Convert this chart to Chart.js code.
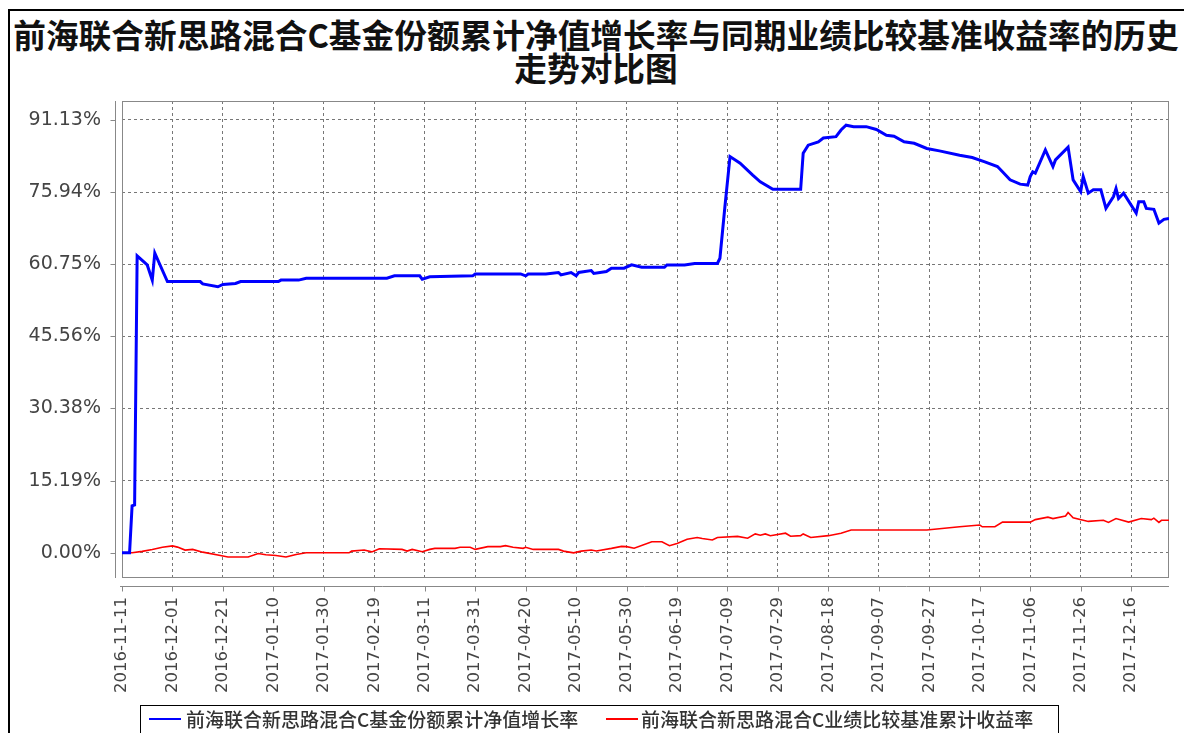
<!DOCTYPE html>
<html>
<head>
<meta charset="utf-8">
<script src="https://cdn.jsdelivr.net/npm/chart.js@4.4.0/dist/chart.umd.min.js"></script>
<style>
    html, body { margin: 0; padding: 0; background: #fff; }
    #wrap { position: relative; width: 1184px; height: 733px; overflow: hidden; }
    #frame { position: absolute; left: 8px; top: 9px; width: 1300px; height: 900px; border-top: 2px solid #000; border-left: 2px solid #000; }
    #title { position: absolute; left: 10px; top: 17px; width: 1172px; text-align: center; font: bold 32.7px/33px "Noto Sans CJK SC"; color: #111; }
    #chart { position: absolute; left: 0; top: 0; width: 1184px; height: 733px; }
    #legend { position: absolute; left: 140px; top: 705px; width: 917px; height: 40px; border: 1px solid #000; font: 500 19px "Noto Sans CJK SC"; color: #333; }
    #legend .sw { position: absolute; top: 12px; width: 32px; height: 2px; }
    #legend .tx { position: absolute; top: 0px; line-height: 26px; white-space: nowrap; }
</style>
</head>
<body>
<div id="wrap">
    <div id="frame"></div>
    <div id="title">前海联合新思路混合C基金份额累计净值增长率与同期业绩比较基准收益率的历史<br>走势对比图</div>
    <canvas id="chart" width="1184" height="733"></canvas>
    <div id="legend">
        <span class="sw" style="left:8px;background:#0000ff"></span>
        <span class="tx" id="lg0" style="left:45px"></span>
        <span class="sw" style="left:465px;background:#ff0000"></span>
        <span class="tx" id="lg1" style="left:500px"></span>
    </div>
</div>
<script>
// series names
const seriesNames = ['前海联合新思路混合C基金份额累计净值增长率', '前海联合新思路混合C业绩比较基准累计收益率'];

// x axis tick labels (every 20 days)
const xTickLabels = ['2016-11-11', '2016-12-01', '2016-12-21', '2017-01-10', '2017-01-30', '2017-02-19', '2017-03-11',
    '2017-03-31', '2017-04-20', '2017-05-10', '2017-05-30', '2017-06-19', '2017-07-09', '2017-07-29', '2017-08-18',
    '2017-09-07', '2017-09-27', '2017-10-17', '2017-11-06', '2017-11-26', '2017-12-16'];

// y axis ticks (%)
const yTicks = [0, 15.19, 30.38, 45.56, 60.75, 75.94, 91.13];

// fund NAV growth (%)
const fundDates = ['2016-11-11', '2016-11-14', '2016-11-15', '2016-11-16', '2016-11-17', '2016-11-21', '2016-11-23', '2016-11-24',
    '2016-11-29', '2016-12-12', '2016-12-13', '2016-12-19', '2016-12-21', '2016-12-26', '2016-12-28', '2017-01-12', '2017-01-13',
    '2017-01-20', '2017-01-23', '2017-02-24', '2017-02-27', '2017-03-09', '2017-03-10', '2017-03-13', '2017-03-30', '2017-03-31',
    '2017-04-18', '2017-04-20', '2017-04-21', '2017-04-28', '2017-05-03', '2017-05-04', '2017-05-08', '2017-05-10', '2017-05-11',
    '2017-05-16', '2017-05-17', '2017-05-22', '2017-05-24', '2017-05-29', '2017-06-01', '2017-06-05', '2017-06-14', '2017-06-15',
    '2017-06-22', '2017-06-26', '2017-07-05', '2017-07-06', '2017-07-08', '2017-07-10', '2017-07-14', '2017-07-19', '2017-07-22',
    '2017-07-27', '2017-08-07', '2017-08-08', '2017-08-10', '2017-08-14', '2017-08-16', '2017-08-21', '2017-08-23', '2017-08-25',
    '2017-08-28', '2017-09-02', '2017-09-06', '2017-09-10', '2017-09-13', '2017-09-17', '2017-09-21', '2017-09-26', '2017-10-01',
    '2017-10-09', '2017-10-14', '2017-10-19', '2017-10-24', '2017-10-26', '2017-10-29', '2017-11-02', '2017-11-05', '2017-11-06',
    '2017-11-07', '2017-11-08', '2017-11-12', '2017-11-15', '2017-11-16', '2017-11-21', '2017-11-23', '2017-11-26', '2017-11-27',
    '2017-11-29', '2017-12-01', '2017-12-04', '2017-12-06', '2017-12-09', '2017-12-10', '2017-12-11', '2017-12-13', '2017-12-18',
    '2017-12-19', '2017-12-21', '2017-12-22', '2017-12-25', '2017-12-27', '2017-12-29', '2017-12-31'];
const fundValues = [0, 0, 9.9, 10.1, 62.5, 60.6, 57.4, 63.1,
    57.1, 57.1, 56.6, 56.0, 56.5, 56.7, 57.1, 57.1, 57.4,
    57.4, 57.8, 57.8, 58.3, 58.3, 57.6, 58.1, 58.3, 58.7,
    58.7, 58.3, 58.7, 58.7, 59.0, 58.5, 59.0, 58.3, 59.0,
    59.4, 58.8, 59.2, 59.9, 59.9, 60.6, 60.1, 60.1, 60.6,
    60.6, 60.9, 60.9, 62.0, 73.0, 83.4, 82.0, 79.5, 78.1,
    76.5, 76.5, 84.1, 85.8, 86.5, 87.3, 87.6, 89.0, 90.0,
    89.7, 89.7, 89.1, 87.9, 87.7, 86.5, 86.2, 85.1, 84.6,
    83.7, 83.2, 82.3, 81.3, 80.2, 78.5, 77.6, 77.4, 79.2,
    80.2, 79.9, 84.8, 81.3, 82.7, 85.4, 78.5, 76.0, 79.2,
    75.7, 76.4, 76.4, 72.5, 75.0, 76.7, 74.6, 75.7, 71.5,
    73.9, 73.9, 72.5, 72.3, 69.4, 70.2, 70.4];

// benchmark return (%)
const benchDates = ['2016-11-11', '2016-11-15', '2016-11-19', '2016-11-23', '2016-11-27', '2016-12-01', '2016-12-03', '2016-12-06',
    '2016-12-09', '2016-12-13', '2016-12-20', '2016-12-23', '2016-12-31', '2017-01-04', '2017-01-07', '2017-01-11', '2017-01-15',
    '2017-01-19', '2017-01-23', '2017-02-09', '2017-02-10', '2017-02-15', '2017-02-18', '2017-02-21', '2017-03-02', '2017-03-04',
    '2017-03-06', '2017-03-10', '2017-03-13', '2017-03-15', '2017-03-23', '2017-03-25', '2017-03-29', '2017-03-31', '2017-04-05',
    '2017-04-10', '2017-04-12', '2017-04-15', '2017-04-19', '2017-04-20', '2017-04-23', '2017-05-03', '2017-05-05', '2017-05-09',
    '2017-05-12', '2017-05-16', '2017-05-18', '2017-05-24', '2017-05-28', '2017-05-30', '2017-06-02', '2017-06-09', '2017-06-13',
    '2017-06-16', '2017-06-19', '2017-06-23', '2017-06-27', '2017-06-29', '2017-07-03', '2017-07-05', '2017-07-13', '2017-07-17',
    '2017-07-20', '2017-07-22', '2017-07-24', '2017-07-26', '2017-08-01', '2017-08-03', '2017-08-07', '2017-08-08', '2017-08-11',
    '2017-08-18', '2017-08-23', '2017-08-27', '2017-09-26', '2017-10-09', '2017-10-17', '2017-10-18', '2017-10-23', '2017-10-26',
    '2017-11-06', '2017-11-08', '2017-11-13', '2017-11-15', '2017-11-20', '2017-11-21', '2017-11-23', '2017-11-29', '2017-12-05',
    '2017-12-07', '2017-12-10', '2017-12-15', '2017-12-20', '2017-12-24', '2017-12-25', '2017-12-27', '2017-12-28', '2017-12-31'];
const benchValues = [0, 0, 0.3, 0.7, 1.16, 1.45, 1.2, 0.58,
    0.72, 0.14, -0.58, -0.87, -0.87, -0.14, -0.4, -0.58, -0.87,
    -0.36, 0, 0, 0.36, 0.58, 0.2, 0.87, 0.72, 0.36,
    0.72, 0.22, 0.72, 0.94, 0.94, 1.16, 1.16, 0.72, 1.30,
    1.30, 1.52, 1.16, 0.94, 1.16, 0.72, 0.72, 0.36, 0,
    0.36, 0.58, 0.4, 0.94, 1.35, 1.3, 0.98, 2.33, 2.33,
    1.50, 1.95, 2.85, 3.23, 3.0, 2.70, 3.23, 3.46, 3.08,
    3.98, 3.7, 3.98, 3.61, 4.13, 3.5, 3.61, 3.98, 3.23,
    3.61, 4.13, 4.81, 4.81, 5.48, 5.86, 5.48, 5.48, 6.46,
    6.46, 6.99, 7.51, 7.21, 7.74, 8.49, 7.36, 6.61, 6.84,
    6.39, 7.21, 6.46, 7.21, 6.99, 7.3, 6.39, 6.84, 6.84];

const startDate = '2016-11-11';
const endDate = '2017-12-31';

function dayOf(s) {
    const [y, m, d] = s.split('-').map(Number);
    const [y0, m0, d0] = startDate.split('-').map(Number);
    return (Date.UTC(y, m - 1, d) - Date.UTC(y0, m0 - 1, d0)) / 864e5;
}

const toPoints = (dates, values) => dates.map((d, i) => ({ x: dayOf(d), y: values[i] }));

document.getElementById('lg0').textContent = seriesNames[0];
document.getElementById('lg1').textContent = seriesNames[1];

// plot box and offset axis lines like the original
const axisFrame = {
    id: 'axisFrame',
    beforeDatasetsDraw(chart) {
        const { ctx, chartArea: a, scales: { x, y } } = chart;
        ctx.save();
        ctx.strokeStyle = '#888';
        ctx.lineWidth = 1;
        ctx.strokeRect(a.left + 0.5, a.top + 0.5, a.right - a.left - 1, a.bottom - a.top - 1);
        const ax = a.left - 6.5, ay = a.bottom + 8.5;
        ctx.beginPath();
        ctx.moveTo(ax, a.top); ctx.lineTo(ax, a.bottom);
        ctx.moveTo(a.left - 2, ay); ctx.lineTo(a.right, ay);
        y.ticks.forEach(t => {
            const p = Math.round(y.getPixelForValue(t.value)) + 0.5;
            ctx.moveTo(ax - 5, p); ctx.lineTo(ax, p);
        });
        x.ticks.forEach(t => {
            const p = Math.round(x.getPixelForValue(t.value)) + 0.5;
            ctx.moveTo(p, ay); ctx.lineTo(p, ay + 5);
        });
        ctx.stroke();
        ctx.restore();
    }
};

new Chart(document.getElementById('chart'), {
    type: 'line',
    data: {
        datasets: [
            {
                label: seriesNames[0],
                data: toPoints(fundDates, fundValues),
                borderColor: '#0000ff',
                borderWidth: 3,
                pointRadius: 0,
                tension: 0,
            },
            {
                label: seriesNames[1],
                data: toPoints(benchDates, benchValues),
                borderColor: '#ff0000',
                borderWidth: 1.6,
                pointRadius: 0,
                tension: 0,
            },
        ],
    },
    options: {
        responsive: false,
        animation: false,
        layout: { padding: { top: 101, right: 15, bottom: 35, left: 0 } },
        plugins: {
            legend: { display: false },
            title: { display: false },
            tooltip: { enabled: false },
        },
        scales: {
            x: {
                type: 'linear',
                min: 0,
                max: dayOf(endDate),
                afterBuildTicks: (scale) => {
                    scale.ticks = xTickLabels.map(d => ({ value: dayOf(d) }));
                },
                afterFit: (scale) => {
                    scale.height = 120;
                    scale.paddingLeft = 0;
                    scale.paddingRight = 0;
                },
                ticks: {
                    autoSkip: false,
                    minRotation: 90,
                    maxRotation: 90,
                    padding: 19,
                    color: '#444',
                    font: { family: 'DejaVu Sans', size: 16.5 },
                    callback: (v) => xTickLabels.find(d => dayOf(d) === v) || '',
                },
                grid: { color: '#777', drawTicks: false },
                border: { display: false, dash: [3, 3] },
            },
            y: {
                min: -5.3,
                max: 95.1,
                afterBuildTicks: (scale) => {
                    scale.ticks = yTicks.map(v => ({ value: v }));
                },
                afterFit: (scale) => { scale.width = 122; },
                ticks: {
                    padding: 21,
                    color: '#444',
                    font: { family: 'DejaVu Sans', size: 19 },
                    callback: (v) => v.toFixed(2) + '%',
                },
                grid: { color: '#777', drawTicks: false },
                border: { display: false, dash: [3, 3] },
            },
        },
    },
    plugins: [axisFrame],
});
</script>
</body>
</html>
